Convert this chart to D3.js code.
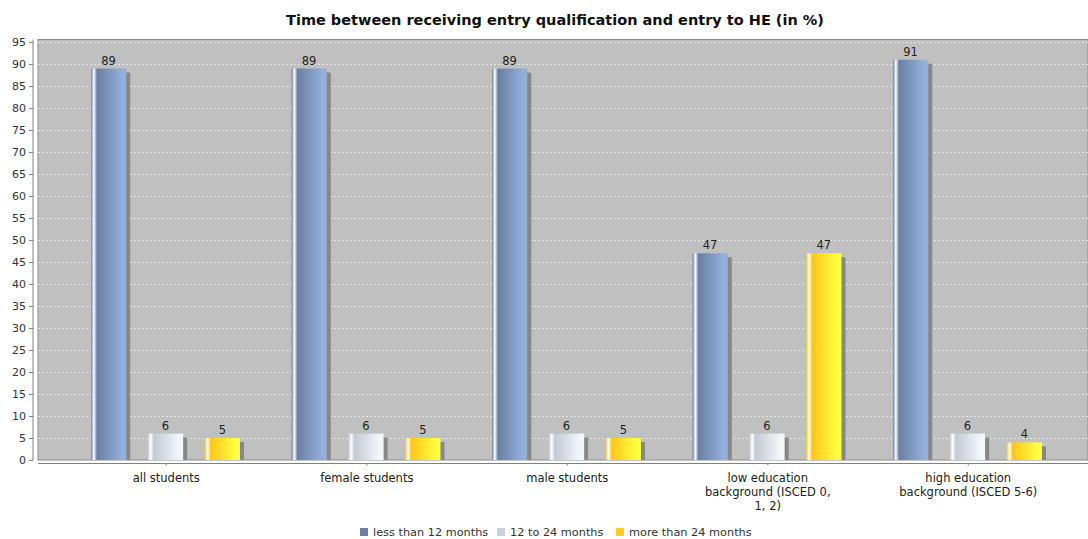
<!DOCTYPE html>
<html>
<head>
<meta charset="utf-8">
<script src="https://cdn.jsdelivr.net/npm/d3@7"></script>
<style>
    body { margin: 0; background: #fff; }
    text { font-family: "DejaVu Sans", sans-serif; }
</style>
</head>
<body>
<svg id="chart" width="1088" height="539"></svg>
<script>
var categories = ["all students", "female students", "male students",
    "low education background (ISCED 0, 1, 2)", "high education background (ISCED 5-6)"];
var categoryLines = [["all students"], ["female students"], ["male students"],
    ["low education", "background (ISCED 0,", "1, 2)"], ["high education", "background (ISCED 5-6)"]];
var seriesNames = ["less than 12 months", "12 to 24 months", "more than 24 months"];
var lessThan12 = [89, 89, 89, 47, 91];
var from12to24 = [6, 6, 6, 6, 6];
var moreThan24 = [5, 5, 5, 47, 4];
var yTicks = d3.range(0, 96, 5);

var seriesValues = [lessThan12, from12to24, moreThan24];
var colors = [
    {c0: "#6b7fa3", c1: "#93afdc", swatch: "#6d80a4"},
    {c0: "#c3cad4", c1: "#f4f6f9", swatch: "#c9d0db"},
    {c0: "#ffc61a", c1: "#ffff40", swatch: "#ffcc22"}
];

var svg = d3.select("#chart");
var plotLeft = 38, plotRight = 1088, plotTop = 39.5, plotBottom = 460;

var defs = svg.append("defs");
colors.forEach(function (c, i) {
    var g = defs.append("linearGradient")
        .attr("id", "grad" + i)
        .attr("x1", 0).attr("x2", 1).attr("y1", 0).attr("y2", 0);
    g.append("stop").attr("offset", "0%").attr("stop-color", c.c0);
    g.append("stop").attr("offset", "8%").attr("stop-color", "#ffffff");
    g.append("stop").attr("offset", "17%").attr("stop-color", c.c0);
    g.append("stop").attr("offset", "88%").attr("stop-color", c.c1);
    g.append("stop").attr("offset", "100%").attr("stop-color", c.c1);
});

var x0 = d3.scaleBand().domain(categories).range([66, 1068.5]).padding(0);
var x1 = d3.scaleBand().domain(seriesNames).range([25, 174]).paddingInner(0.38);
var y = d3.scaleLinear().domain([0, 95.6]).range([plotBottom, plotTop]);

// title
svg.append("text")
    .attr("x", 555)
    .attr("y", 25)
    .attr("text-anchor", "middle")
    .style("font-weight", "bold")
    .style("font-size", "14.5px")
    .attr("fill", "#111")
    .text("Time between receiving entry qualification and entry to HE (in %)");

// plot background
svg.append("rect")
    .attr("x", plotLeft).attr("y", plotTop)
    .attr("width", plotRight - plotLeft).attr("height", plotBottom - plotTop)
    .attr("fill", "#c0c0c0")
    .attr("stroke", "#8a8a8a")
    .attr("stroke-width", 1);

// gridlines
svg.append("g").selectAll("line")
    .data(yTicks.filter(function (d) { return d > 0; }))
    .enter().append("line")
    .attr("x1", plotLeft).attr("x2", plotRight)
    .attr("y1", function (d) { return Math.round(y(d)) + 0.5; })
    .attr("y2", function (d) { return Math.round(y(d)) + 0.5; })
    .attr("stroke", "#e6e6e6")
    .attr("stroke-dasharray", "2,2");

var groups = svg.append("g").selectAll("g")
    .data(categories)
    .enter().append("g")
    .attr("transform", function (d) { return "translate(" + x0(d) + ",0)"; });

var barData = function (d, ci) {
    return seriesNames.map(function (s, si) {
        return {series: s, si: si, value: seriesValues[si][ci]};
    });
};

// shadows
groups.selectAll(".shadow")
    .data(barData)
    .enter().append("rect")
    .attr("class", "shadow")
    .attr("x", function (d) { return x1(d.series) + 4; })
    .attr("y", function (d) { return y(d.value) + 4; })
    .attr("width", x1.bandwidth())
    .attr("height", function (d) { return Math.max(0, plotBottom - y(d.value) - 4); })
    .attr("fill", "#878787");

// bars
groups.selectAll(".bar")
    .data(barData)
    .enter().append("rect")
    .attr("class", "bar")
    .attr("x", function (d) { return x1(d.series); })
    .attr("y", function (d) { return y(d.value); })
    .attr("width", x1.bandwidth())
    .attr("height", function (d) { return plotBottom - y(d.value); })
    .attr("fill", function (d) { return "url(#grad" + d.si + ")"; });

// value labels
groups.selectAll(".val")
    .data(barData)
    .enter().append("text")
    .attr("class", "val")
    .attr("x", function (d) { return x1(d.series) + x1.bandwidth() / 2; })
    .attr("y", function (d) { return y(d.value) - 4; })
    .attr("text-anchor", "middle")
    .style("font-size", "11.5px")
    .attr("fill", "#222")
    .text(function (d) { return d.value; });

// y axis
var yAxis = svg.append("g")
    .attr("transform", "translate(33,0)")
    .call(d3.axisLeft(y).tickValues(yTicks).tickSize(4).tickPadding(3));
yAxis.select(".domain").attr("stroke", "#808080").attr("d", "M0," + plotTop + "V" + plotBottom);
yAxis.selectAll(".tick line").attr("stroke", "#808080");
yAxis.selectAll(".tick text")
    .style("font-size", "11px")
    .style("font-family", "DejaVu Sans, sans-serif")
    .attr("fill", "#333");

// x axis
var xAxisY = 463.5;
svg.append("line")
    .attr("x1", plotLeft).attr("x2", plotRight)
    .attr("y1", xAxisY).attr("y2", xAxisY)
    .attr("stroke", "#808080");

var xTicks = svg.append("g").selectAll("g")
    .data(categories)
    .enter().append("g")
    .attr("transform", function (d) { return "translate(" + (x0(d) + x0.bandwidth() / 2) + "," + xAxisY + ")"; });

xTicks.append("line")
    .attr("y1", 0).attr("y2", 2)
    .attr("stroke", "#808080");

xTicks.append("text")
    .attr("text-anchor", "middle")
    .style("font-size", "11.5px")
    .attr("fill", "#222")
    .selectAll("tspan")
    .data(function (d, i) { return categoryLines[i]; })
    .enter().append("tspan")
    .attr("x", 0)
    .attr("y", function (d, i) { return 18.5 + i * 14; })
    .text(function (d) { return d; });

// legend
var legendX = [360, 497, 616];
var legend = svg.append("g").selectAll("g")
    .data(seriesNames)
    .enter().append("g")
    .attr("transform", function (d, i) { return "translate(" + legendX[i] + ",528)"; });

legend.append("rect")
    .attr("width", 8).attr("height", 8)
    .attr("fill", function (d, i) { return colors[i].swatch; });

legend.append("text")
    .attr("x", 13)
    .attr("y", 8)
    .style("font-size", "11.3px")
    .attr("fill", "#333")
    .text(function (d) { return d; });
</script>
</body>
</html>
